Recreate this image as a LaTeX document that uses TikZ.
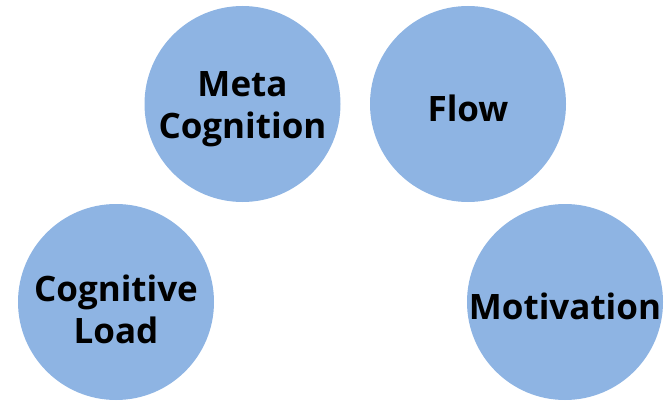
\documentclass[tikz,border=0pt]{standalone}
\usepackage{fontspec}
\setmainfont{Open Sans}
\definecolor{bub}{HTML}{8EB4E3}
\begin{document}
\begin{tikzpicture}[x=1pt,y=-1pt,
  bubble/.style={circle,fill=bub,minimum size=196pt,inner sep=0pt},
  txt/.style={align=center,inner sep=0pt,
    font=\fontsize{35}{42}\selectfont\bfseries,text=black}]
\useasboundingbox (0,0) rectangle (672,401);
\node[bubble,label={[txt,yshift=-5pt]center:{Meta\\Cognition}}] (meta) at (242.5,104) {};
\node[bubble,label={[txt,yshift=-4pt]center:{Flow}}] (flow) at (468,104) {};
\node[bubble,label={[txt,yshift=-7pt]center:{Cognitive\\Load}}] (load) at (116,302) {};
\node[bubble,label={[txt,yshift=-4pt]center:{Motivation}}] (mot) at (565,302) {};
\end{tikzpicture}
\end{document}
